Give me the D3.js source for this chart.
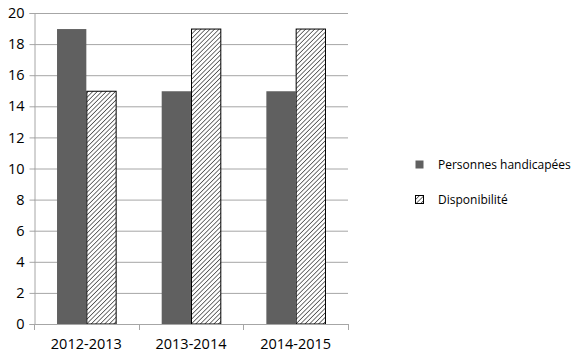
<!DOCTYPE html>
<html><head><meta charset="utf-8">
<script src="https://cdn.jsdelivr.net/npm/d3@7"></script>
<style>body{margin:0;background:#fff}svg{display:block}text{font-family:"Open Sans",sans-serif}</style>
</head><body>
<script>
const categories = ["2012-2013","2013-2014","2014-2015"];
const seriesNames = ["Personnes handicapées","Disponibilité"];
const handicapees = [19,15,15];
const disponibilite = [15,19,19];
const yTicks = [0,2,4,6,8,10,12,14,16,18,20];

const W=580,H=359;
const svg=d3.select("body").append("svg").attr("width",W).attr("height",H);
const defs=svg.append("defs");
const pat=defs.append("pattern").attr("id","hatch").attr("patternUnits","userSpaceOnUse")
  .attr("width",3.2).attr("height",3.2).attr("patternTransform","rotate(45)");
pat.append("rect").attr("width",3.2).attr("height",3.2).attr("fill","#fff");
pat.append("line").attr("x1",0).attr("y1",0).attr("x2",0).attr("y2",3.2).attr("stroke","#000").attr("stroke-width",1.1);

const L=34,R=348,T=13,B=324;
const x=d3.scaleBand().domain(categories).range([L,R]).paddingInner(0.44).paddingOuter(0.22);
const x1=d3.scaleBand().domain(seriesNames).range([0,x.bandwidth()]);
const y=d3.scaleLinear().domain([0,20]).range([B,T]);

svg.append("g").selectAll("line").data(yTicks.filter(d=>d>0)).join("line")
  .attr("x1",L).attr("x2",R).attr("y1",d=>y(d)+0.5).attr("y2",d=>y(d)+0.5)
  .attr("stroke","#a6a6a6").attr("stroke-width",1);

const yAxis=svg.append("g").attr("transform",`translate(${L+0.5},0)`)
  .call(d3.axisLeft(y).tickValues(yTicks).tickSize(5).tickPadding(5));
yAxis.select(".domain").attr("stroke","#a6a6a6");
yAxis.selectAll(".tick line").attr("stroke","#a6a6a6");
yAxis.selectAll("text").attr("font-size",14.5).attr("fill","#000");

const data=categories.map((c,i)=>({c,vals:[handicapees[i],disponibilite[i]]}));
const g=svg.append("g").selectAll("g").data(data).join("g").attr("transform",d=>`translate(${x(d.c)},0)`);
g.selectAll("rect").data(d=>d.vals.map((v,j)=>({k:seriesNames[j],v,j}))).join("rect")
  .attr("x",d=>x1(d.k)+(d.j?0.5:0)).attr("y",d=>y(d.v)+0.5)
  .attr("width",d=>x1.bandwidth())
  .attr("height",d=>B-y(d.v)-0.5)
  .attr("fill",d=>d.j?"url(#hatch)":"#606060")
  .attr("stroke",d=>d.j?"#000":"none").attr("stroke-width",1);

const xAxis=svg.append("g").attr("transform",`translate(0,${B+0.5})`)
  .call(d3.axisBottom(x).tickSize(0).tickPadding(14));
xAxis.select(".domain").remove();
xAxis.selectAll("text").attr("font-size",14.5).attr("fill","#000");
svg.append("line").attr("x1",L).attr("x2",R).attr("y1",B+0.5).attr("y2",B+0.5).attr("stroke","#a6a6a6");
const sep=[L,...categories.map(c=>x(c)+x.bandwidth()+x.step()*x.paddingInner()/2).slice(0,-1),R];
svg.append("g").selectAll("line").data(sep).join("line")
  .attr("x1",d=>Math.round(d)+0.5).attr("x2",d=>Math.round(d)+0.5).attr("y1",B).attr("y2",B+6).attr("stroke","#a6a6a6");

const lg=svg.append("g").selectAll("g").data(seriesNames).join("g")
  .attr("transform",(d,i)=>`translate(415,${160+i*35})`);
lg.append("rect").attr("x",0.5).attr("y",0.5).attr("width",8).attr("height",8)
  .attr("fill",(d,i)=>i?"url(#hatch)":"#606060").attr("stroke",(d,i)=>i?"#000":"none");
lg.append("text").attr("x",23).attr("y",9).attr("font-size",12).text(d=>d);
</script>
</body></html>
